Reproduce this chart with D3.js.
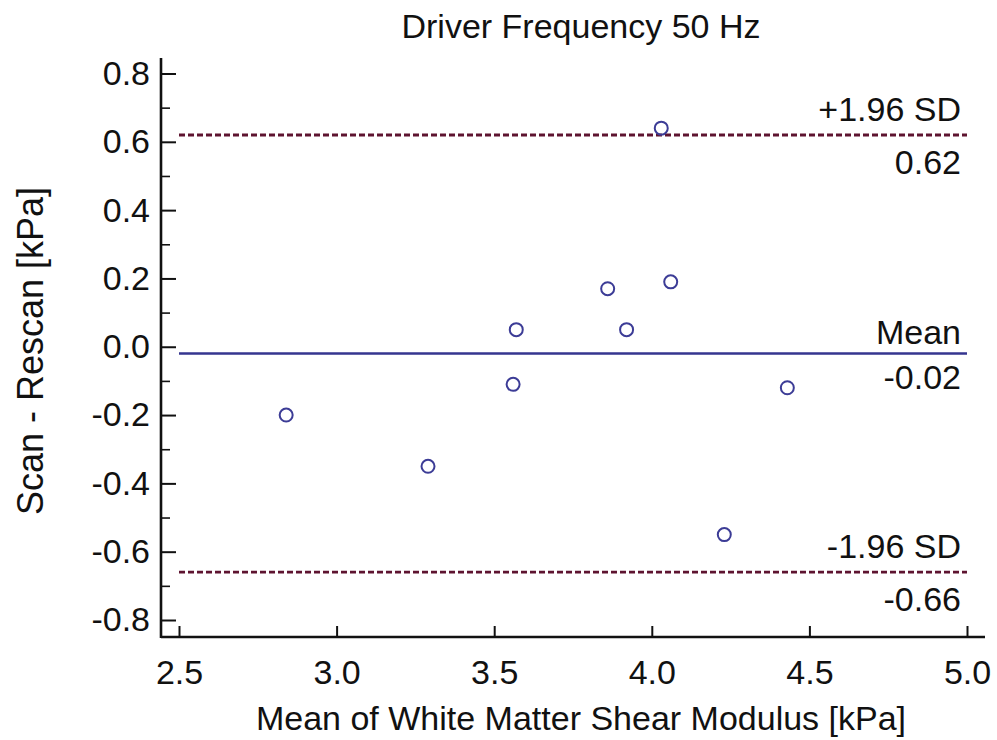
<!DOCTYPE html>
<html>
<head>
<meta charset="utf-8">
<script src="https://cdn.jsdelivr.net/npm/d3@7"></script>
<style>
  html, body { margin: 0; padding: 0; background: #fff; }
  svg { display: block; font-family: "Liberation Sans", Arial, sans-serif; }
</style>
</head>
<body>
<svg id="chart" width="997" height="740"></svg>
<script>
// ---- data ----
const meanValues = [2.84, 3.29, 3.56, 3.57, 3.86, 3.92, 4.03, 4.06, 4.23, 4.43];
const diffValues = [-0.20, -0.35, -0.11, 0.05, 0.17, 0.05, 0.64, 0.19, -0.55, -0.12];
const xTicks = [2.5, 3.0, 3.5, 4.0, 4.5, 5.0];
const yTicks = [0.8, 0.6, 0.4, 0.2, 0.0, -0.2, -0.4, -0.6, -0.8];
const yMinorTicks = [0.7, 0.5, 0.3, 0.1, -0.1, -0.3, -0.5, -0.7];
const refNames = ["+1.96 SD", "Mean", "-1.96 SD"];
const refValues = [0.62, -0.02, -0.66];
const refLabels = ["0.62", "-0.02", "-0.66"];
const titleText = "Driver Frequency 50 Hz";
const xTitle = "Mean of White Matter Shear Modulus [kPa]";
const yTitle = "Scan - Rescan [kPa]";

// ---- layout ----
const svg = d3.select("#chart");
const x = d3.scaleLinear().domain([2.5, 5.0]).range([179, 967]);
const y = d3.scaleLinear().domain([-0.8, 0.8]).range([620, 73.5]);
const axisX0 = 161, axisX1 = 985, axisYTop = 58, axisYBot = 637;
const fontSize = 34;
const fmt = d => d.toFixed(1);

// reference lines
const refG = svg.append("g");
refValues.forEach((v, i) => {
  const isMean = refNames[i] === "Mean";
  refG.append("line")
    .attr("x1", x(2.5)).attr("x2", x(5.0))
    .attr("y1", y(v)).attr("y2", y(v))
    .attr("stroke", isMean ? "#35358f" : "#5e1430")
    .attr("stroke-width", isMean ? 2.5 : 2.8)
    .attr("stroke-dasharray", isMean ? null : "6,3");
  refG.append("text")
    .attr("x", 961).attr("y", y(v) - (isMean ? 10 : 14))
    .attr("text-anchor", "end")
    .attr("font-size", fontSize).attr("fill", "#111")
    .text(refNames[i]);
  refG.append("text")
    .attr("x", 961).attr("y", y(v) + (isMean ? 35 : 39))
    .attr("text-anchor", "end")
    .attr("font-size", fontSize).attr("fill", "#111")
    .text(refLabels[i]);
});

// axes
const xAxis = d3.axisBottom(x).tickValues(xTicks)
  .tickFormat(fmt).tickSizeInner(-11).tickSizeOuter(0).tickPadding(23);
const gx = svg.append("g").attr("transform", `translate(0,${axisYBot})`).call(xAxis);
gx.select(".domain").remove();
gx.selectAll(".tick line").attr("stroke", "#111").attr("stroke-width", 2);
gx.selectAll(".tick text").attr("font-size", fontSize).attr("fill", "#111")
  .attr("font-family", "Liberation Sans, Arial, sans-serif");

const yAxis = d3.axisLeft(y).tickValues(yTicks)
  .tickFormat(fmt).tickSizeInner(-15).tickSizeOuter(0).tickPadding(11);
const gy = svg.append("g").attr("transform", `translate(${axisX0},0)`).call(yAxis);
gy.select(".domain").remove();
gy.selectAll(".tick line").attr("stroke", "#111").attr("stroke-width", 2);
gy.selectAll(".tick text").attr("font-size", fontSize).attr("fill", "#111")
  .attr("font-family", "Liberation Sans, Arial, sans-serif");

const yMinor = d3.axisLeft(y).tickValues(yMinorTicks).tickFormat("")
  .tickSizeInner(-9).tickSizeOuter(0);
const gym = svg.append("g").attr("transform", `translate(${axisX0},0)`).call(yMinor);
gym.select(".domain").remove();
gym.selectAll(".tick line").attr("stroke", "#111").attr("stroke-width", 1.6);

// axis lines
svg.append("line").attr("x1", axisX0).attr("x2", axisX0)
  .attr("y1", axisYTop).attr("y2", axisYBot + 1)
  .attr("stroke", "#111").attr("stroke-width", 2.6);
svg.append("line").attr("x1", axisX0).attr("x2", axisX1)
  .attr("y1", axisYBot).attr("y2", axisYBot)
  .attr("stroke", "#111").attr("stroke-width", 2.6);

// points
svg.append("g").selectAll("circle")
  .data(meanValues.map((m, i) => [m, diffValues[i]]))
  .join("circle")
  .attr("cx", d => x(d[0])).attr("cy", d => y(d[1]))
  .attr("r", 6.5)
  .attr("fill", "none")
  .attr("stroke", "#3c3c96")
  .attr("stroke-width", 2);

// titles
svg.append("text").attr("x", 581).attr("y", 38)
  .attr("text-anchor", "middle").attr("font-size", fontSize).attr("fill", "#111")
  .text(titleText);
svg.append("text").attr("x", 581).attr("y", 730)
  .attr("text-anchor", "middle").attr("font-size", fontSize).attr("fill", "#111")
  .text(xTitle);
svg.append("text")
  .attr("transform", "translate(43,351) rotate(-90)")
  .attr("text-anchor", "middle").attr("font-size", 36).attr("fill", "#111")
  .text(yTitle);
</script>
</body>
</html>
